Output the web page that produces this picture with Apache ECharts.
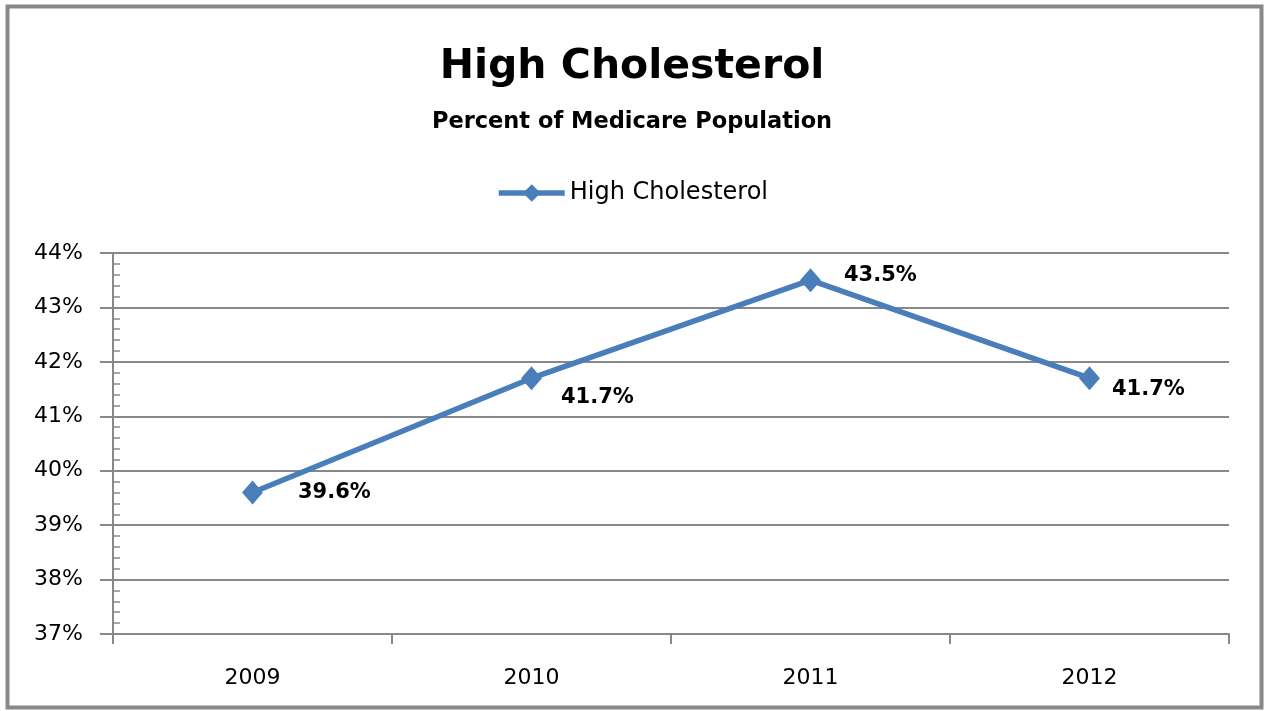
<!DOCTYPE html>
<html>
<head>
<meta charset="utf-8">
<script src="https://cdn.jsdelivr.net/npm/echarts@6/dist/echarts.min.js"></script>
<style>
  html, body { margin: 0; padding: 0; background: #fff; }
  #chart { width: 1264px; height: 711px; }
</style>
</head>
<body>
<div id="chart"></div>
<script>
// chart data
var years = ['2009', '2010', '2011', '2012'];
var highCholesterol = [39.6, 41.7, 43.5, 41.7];
var yTicks = [37, 38, 39, 40, 41, 42, 43, 44];

var font = 'DejaVu Sans';
var gray = '#888888';
var blue = '#4A7EBB';

var chart = echarts.init(document.getElementById('chart'));

// label nudges, excel places these a bit differently per point
var labelShift = [[25, 0], [9, 19], [13, -5], [2, 11]];

chart.setOption({
  animation: false,
  backgroundColor: '#fff',
  graphic: [{
    type: 'rect',
    shape: { x: 7.5, y: 6.5, width: 1254, height: 701 },
    style: { fill: 'none', stroke: gray, lineWidth: 4 },
    silent: true
  }],
  title: [{
    text: 'High Cholesterol',
    left: 'center',
    top: 42,
    textStyle: { fontFamily: font, fontSize: 41, fontWeight: 'bold', color: '#000' }
  }, {
    text: 'Percent of Medicare Population',
    left: 'center',
    top: 106,
    textStyle: { fontFamily: font, fontSize: 22.5, fontWeight: 'bold', color: '#000' }
  }],
  legend: {
    top: 176,
    left: 'center',
    itemWidth: 66,
    itemHeight: 22,
    itemGap: 6,
    lineStyle: { width: 5.5, color: blue },
    textStyle: { fontFamily: font, fontSize: 24, color: '#000' },
    data: ['High Cholesterol']
  },
  grid: { left: 113, right: 35, top: 253, bottom: 77, containLabel: false },
  xAxis: {
    type: 'category',
    data: years,
    boundaryGap: true,
    axisLine: { lineStyle: { color: gray, width: 2 } },
    axisTick: { show: true, length: 10, lineStyle: { color: gray, width: 2 } },
    axisLabel: { fontFamily: font, fontSize: 22, color: '#000', margin: 33 }
  },
  yAxis: [{
    type: 'value',
    min: yTicks[0],
    max: yTicks[yTicks.length - 1],
    interval: 1,
    axisLine: { show: true, lineStyle: { color: gray, width: 2 } },
    axisTick: { show: true, inside: true, length: 7, lineStyle: { color: gray, width: 1.5 } },
    minorTick: { show: true, splitNumber: 5, length: 7, lineStyle: { color: gray, width: 1.5 } },
    splitLine: { show: true, lineStyle: { color: gray, width: 2 } },
    axisLabel: {
      fontFamily: font, fontSize: 22, color: '#000', margin: 30,
      formatter: function (v) { return v + '%'; }
    }
  }, {
    // outward major ticks only
    type: 'value',
    position: 'left',
    min: yTicks[0],
    max: yTicks[yTicks.length - 1],
    interval: 1,
    axisLine: { show: false },
    axisTick: { show: true, length: 13, lineStyle: { color: gray, width: 2 } },
    minorTick: { show: false },
    splitLine: { show: false },
    axisLabel: { show: false }
  }],
  series: [{
    name: 'High Cholesterol',
    type: 'line',
    data: highCholesterol.map(function (v, i) {
      return { value: v, label: { offset: labelShift[i] } };
    }),
    symbol: 'diamond',
    symbolSize: [21, 24],
    lineStyle: { color: blue, width: 5.5 },
    itemStyle: { color: blue },
    label: {
      show: true,
      position: 'right',
      distance: 10,
      fontFamily: font,
      fontSize: 21,
      fontWeight: 'bold',
      color: '#000',
      formatter: function (p) { return p.value.toFixed(1) + '%'; }
    }
  }]
});
</script>
</body>
</html>
